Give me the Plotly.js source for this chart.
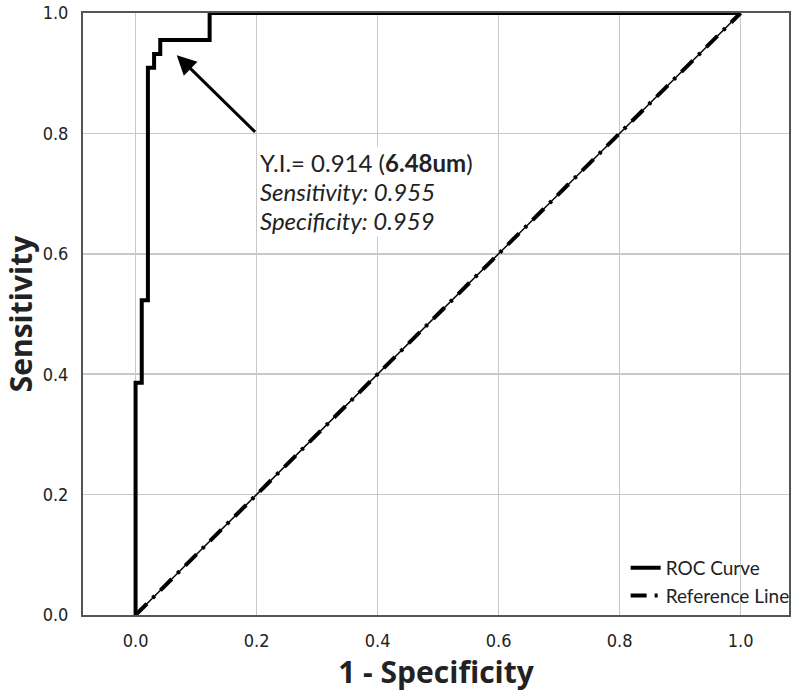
<!DOCTYPE html>
<html>
<head>
<meta charset="utf-8">
<script src="https://cdn.plot.ly/plotly-3.0.1.min.js"></script>
<style>html,body{margin:0;padding:0;background:#fff;}#chart{width:800px;height:697px;}</style>
</head>
<body>
<div id="chart"></div>
<script>
// ROC points (1 - specificity, sensitivity), drawn as steps
var rocFPR = [0, 0, 0.0102, 0.0204, 0.0306, 0.0408, 0.1224, 1];
var rocTPR = [0, 0.386, 0.523, 0.909, 0.932, 0.955, 1, 1];
// Reference (chance) line
var refX = [0, 1];
var refY = [0, 1];
// Axis ticks
var tickVals = [0, 0.2, 0.4, 0.6, 0.8, 1.0];
var tickText = ["0.0", "0.2", "0.4", "0.6", "0.8", "1.0"];
// Optimal cut-off annotation
var optimal = {fpr: 0.041, tpr: 0.955, yi: "0.914", cut: "6.48um", sens: "0.955", spec: "0.959"};

var tickFont = {family: "Liberation Sans Narrow, DejaVu Sans Condensed, Arial Narrow, sans-serif", size: 18, color: "#222"};
var textFamily = "Lato, Open Sans, sans-serif";
var titleFamily = "Open Sans, Lato, sans-serif";

var traces = [
  {x: refX, y: refY, mode: "lines", showlegend: false, hoverinfo: "skip",
   line: {color: "#000", width: 1.5}},
  {x: rocFPR, y: rocTPR, mode: "lines", name: "ROC Curve",
   line: {color: "#000", width: 4, shape: "hv"}},
  {x: refX, y: refY, mode: "lines", name: "Reference Line",
   line: {color: "#000", width: 4, dash: "16px,8px,3px,8px"}}
];

var layout = {
  width: 800, height: 697,
  margin: {l: 83, r: 5, t: 13, b: 82},
  paper_bgcolor: "#fff", plot_bgcolor: "#fff",
  xaxis: {
    range: [-0.0869, 1.080], tickvals: tickVals, ticktext: tickText,
    showgrid: true, gridcolor: "#c8c8c8", gridwidth: 1.5, zeroline: false,
    showline: true, linecolor: "#555", linewidth: 2, mirror: true,
    ticks: "", ticklabelstandoff: 8, tickfont: tickFont,
    title: {text: "1 - Specificity", font: {family: titleFamily, size: 30, color: "#222", weight: "bold"}, standoff: 12}
  },
  yaxis: {
    range: [0, 1], tickvals: tickVals, ticktext: tickText,
    showgrid: true, gridcolor: "#c8c8c8", gridwidth: 1.5, zeroline: false,
    showline: true, linecolor: "#555", linewidth: 2, mirror: true,
    ticks: "", ticklabelstandoff: 9, tickfont: tickFont,
    title: {text: "Sensitivity", font: {family: titleFamily, size: 30, color: "#222", weight: "bold"}, standoff: 10}
  },
  legend: {
    x: 1.008, xanchor: "right", y: 0, yanchor: "bottom",
    bgcolor: "rgba(0,0,0,0)", borderwidth: 0,
    font: {family: textFamily, size: 19, color: "#222"},
    tracegroupgap: 0, itemwidth: 30
  },
  annotations: [
    {x: optimal.fpr + 0.027, y: optimal.tpr - 0.025, xref: "x", yref: "y",
     ax: 0.2, ay: 0.8, axref: "x", ayref: "y",
     showarrow: true, arrowhead: 2, arrowsize: 1.3, arrowwidth: 3, arrowcolor: "#000", text: ""},
    {x: 0.203, y: 0.752, xref: "x", yref: "y", xanchor: "left", yanchor: "middle", showarrow: false,
     bgcolor: "#fff", text: "Y.I.= " + optimal.yi + " (<b>" + optimal.cut + "</b>)",
     font: {family: textFamily, size: 24, color: "#222"}},
    {x: 0.203, y: 0.704, xref: "x", yref: "y", xanchor: "left", yanchor: "middle", showarrow: false,
     bgcolor: "#fff", text: "<i>Sensitivity: " + optimal.sens + "</i>",
     font: {family: textFamily, size: 24, color: "#222"}},
    {x: 0.203, y: 0.656, xref: "x", yref: "y", xanchor: "left", yanchor: "middle", showarrow: false,
     bgcolor: "#fff", text: "<i>Specificity: " + optimal.spec + "</i>",
     font: {family: textFamily, size: 24, color: "#222"}}
  ]
};

Plotly.newPlot("chart", traces, layout, {displayModeBar: false, staticPlot: true});
</script>
</body>
</html>
